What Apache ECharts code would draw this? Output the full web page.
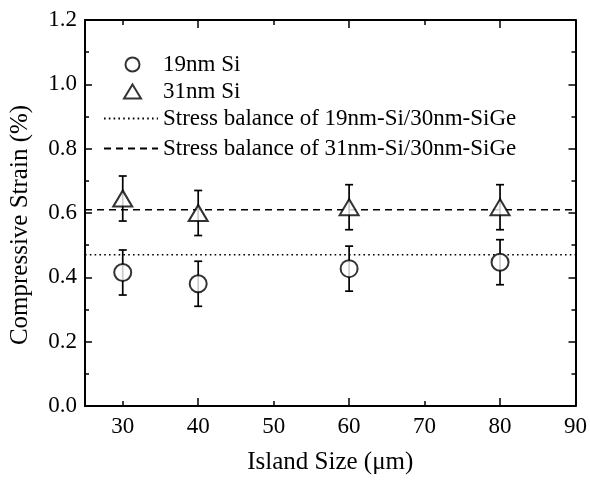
<!DOCTYPE html>
<html>
<head>
<meta charset="utf-8">
<script src="https://cdn.jsdelivr.net/npm/echarts@6/dist/echarts.min.js"></script>
<style>html,body{margin:0;padding:0;background:#fff;}#c{width:590px;height:480px;}</style>
</head>
<body>
<div id="c"></div>
<script>
const islandSize = [30, 40, 60, 80];
const strain19 = [0.415, 0.38, 0.427, 0.447];
const err19 = [0.07, 0.07, 0.07, 0.07];
const strain31 = [0.645, 0.60, 0.618, 0.618];
const err31 = [0.07, 0.07, 0.07, 0.07];
const balance19 = 0.47;
const balance31 = 0.61;
const xLabels = [30, 40, 50, 60, 70, 80, 90];
const xMinorTicks = [30, 50, 70];
const xMajorTicks = [40, 60, 80];
const names = ['19nm Si', '31nm Si', 'Stress balance of 19nm-Si/30nm-SiGe', 'Stress balance of 31nm-Si/30nm-SiGe'];

const FONT = 'Liberation Serif';
const chart = echarts.init(document.getElementById('c'));

function errData(xs, ys, es) { return xs.map((x, i) => [x, ys[i], es[i]]); }
function ptData(xs, ys) { return xs.map((x, i) => [x, ys[i]]); }

function renderErr(params, api) {
  const x = api.value(0), y = api.value(1), e = api.value(2);
  const top = api.coord([x, y + e]);
  const bot = api.coord([x, y - e]);
  const cw = 4;
  const st = { stroke: '#000', lineWidth: 1.7 };
  return {
    type: 'group',
    children: [
      { type: 'line', shape: { x1: top[0], y1: top[1], x2: bot[0], y2: bot[1] }, style: st },
      { type: 'line', shape: { x1: top[0] - cw, y1: top[1], x2: top[0] + cw, y2: top[1] }, style: st },
      { type: 'line', shape: { x1: bot[0] - cw, y1: bot[1], x2: bot[0] + cw, y2: bot[1] }, style: st }
    ]
  };
}

const baseX = { type: 'value', min: 25, max: 90, splitLine: { show: false } };
const axisLineStyle = { color: '#000', width: 2 };
const tickStyle = { color: '#000', width: 1.5 };
const legendText = { fontFamily: FONT, fontSize: 23, color: '#000', lineHeight: 20 };

const option = {
  animation: false,
  backgroundColor: '#fff',
  textStyle: { fontFamily: FONT, color: '#000' },
  grid: { left: 85, right: 14, top: 20, bottom: 73 },
  legend: [
    {
      orient: 'vertical', left: 118, top: 48,
      itemWidth: 17, itemHeight: 14, itemGap: 4,
      textStyle: Object.assign({ padding: [0, 0, 0, 17] }, legendText),
      data: [names[0], names[1]]
    },
    {
      orient: 'vertical', left: 98, top: 102,
      itemWidth: 54, itemHeight: 14, itemGap: 7,
      textStyle: legendText,
      data: [
        { name: names[2], itemStyle: { opacity: 0 } },
        { name: names[3], itemStyle: { opacity: 0 } }
      ]
    }
  ],
  xAxis: [
    Object.assign({}, baseX, {
      position: 'bottom',
      name: 'Island Size (\u03bcm)', nameLocation: 'middle', nameGap: 44,
      nameTextStyle: { fontFamily: FONT, fontSize: 25, color: '#000' },
      axisLine: { show: true, lineStyle: axisLineStyle },
      axisTick: { show: true, inside: true, length: 5, customValues: xMinorTicks, lineStyle: tickStyle },
      axisLabel: { customValues: xLabels, margin: 9, fontFamily: FONT, fontSize: 23, color: '#000' }
    }),
    Object.assign({}, baseX, {
      position: 'bottom',
      axisLine: { show: false },
      axisTick: { show: true, inside: true, length: 8, customValues: xMajorTicks, lineStyle: tickStyle },
      axisLabel: { show: false }
    }),
    Object.assign({}, baseX, {
      position: 'top',
      axisLine: { show: true, lineStyle: axisLineStyle },
      axisTick: { show: true, inside: true, length: 5, customValues: xMinorTicks, lineStyle: tickStyle },
      axisLabel: { show: false }
    }),
    Object.assign({}, baseX, {
      position: 'top',
      axisLine: { show: false },
      axisTick: { show: true, inside: true, length: 8, customValues: xMajorTicks, lineStyle: tickStyle },
      axisLabel: { show: false }
    })
  ],
  yAxis: [
    {
      type: 'value', min: 0, max: 1.2, interval: 0.2, position: 'left',
      name: 'Compressive Strain (%)', nameLocation: 'middle', nameGap: 52,
      nameTextStyle: { fontFamily: FONT, fontSize: 25, color: '#000', padding: [0, 24, 0, 0] },
      splitLine: { show: false },
      axisLine: { show: true, lineStyle: axisLineStyle },
      axisTick: { show: true, inside: true, length: 7, lineStyle: tickStyle },
      minorTick: { show: true, splitNumber: 2, length: 4, lineStyle: tickStyle },
      axisLabel: { margin: 8, fontFamily: FONT, fontSize: 23, color: '#000', formatter: v => v.toFixed(1) }
    },
    {
      type: 'value', min: 0, max: 1.2, interval: 0.2, position: 'right',
      splitLine: { show: false },
      axisLine: { show: true, lineStyle: axisLineStyle },
      axisTick: { show: true, inside: true, length: 7, lineStyle: tickStyle },
      minorTick: { show: true, splitNumber: 2, length: 4, lineStyle: tickStyle },
      axisLabel: { show: false }
    }
  ],
  series: [
    {
      name: names[2], type: 'line', symbol: 'none', silent: true,
      data: [[25, balance19], [90, balance19]],
      lineStyle: { color: '#000', width: 1.6, type: [1.6, 3.2] }, itemStyle: { color: '#000' }
    },
    {
      name: names[3], type: 'line', symbol: 'none', silent: true,
      data: [[25, balance31], [90, balance31]],
      lineStyle: { color: '#000', width: 1.6, type: [7, 5] }, itemStyle: { color: '#000' }
    },
    { type: 'custom', renderItem: renderErr, data: errData(islandSize, strain19, err19), z: 3 },
    { type: 'custom', renderItem: renderErr, data: errData(islandSize, strain31, err31), z: 3 },
    {
      name: names[0], type: 'scatter', symbol: 'circle', symbolSize: 17, z: 5,
      data: ptData(islandSize, strain19),
      itemStyle: { color: '#fff', borderColor: '#000', borderWidth: 2 }
    },
    {
      name: names[1], type: 'scatter', symbol: 'triangle', symbolSize: [19, 16], z: 5,
      data: ptData(islandSize, strain31),
      itemStyle: { color: '#fff', borderColor: '#000', borderWidth: 2 }
    }
  ]
};
chart.setOption(option);
</script>
</body>
</html>
